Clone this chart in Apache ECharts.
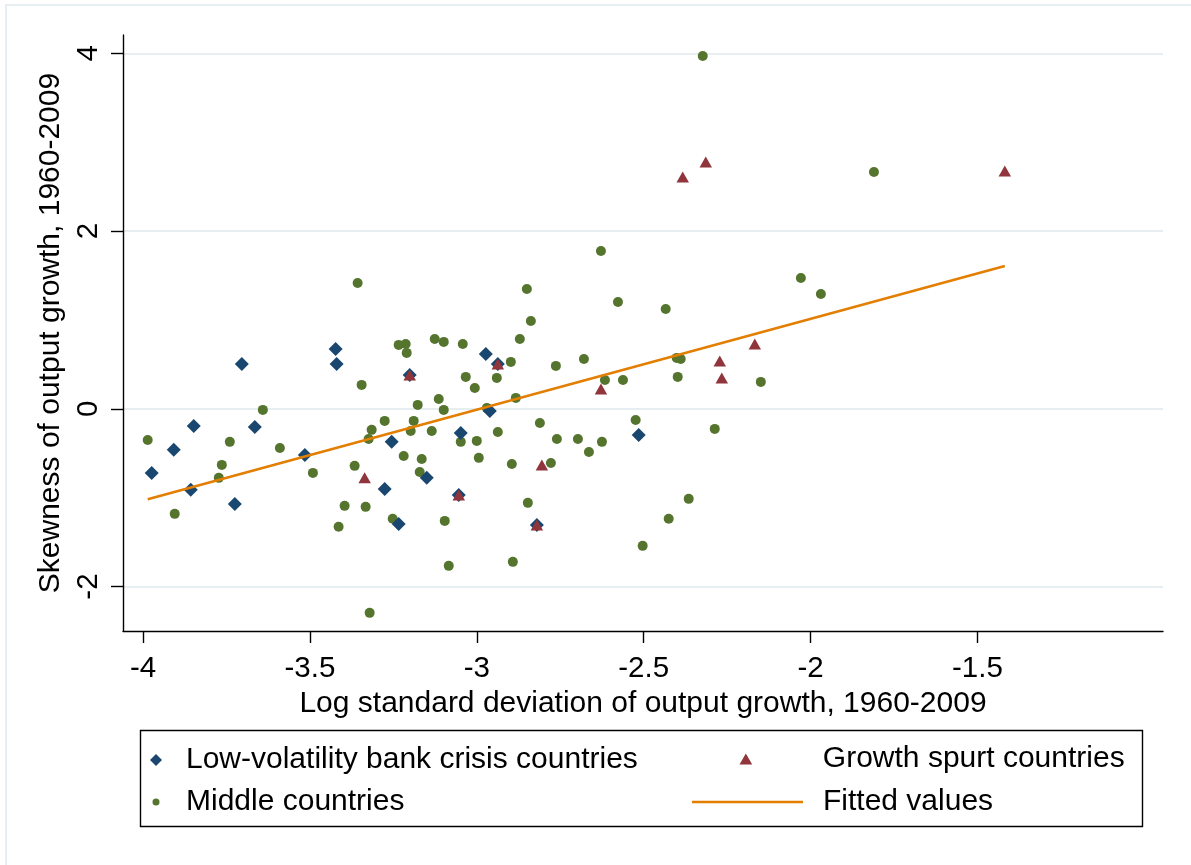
<!DOCTYPE html>
<html>
<head>
<meta charset="utf-8">
<script src="https://cdn.jsdelivr.net/npm/echarts@6/dist/echarts.min.js"></script>
<style>
html,body{margin:0;padding:0;background:#fff;}
#chart{width:1191px;height:865px;}
</style>
</head>
<body>
<div id="chart"></div>
<script>
// ---- data ----
const xTicks = [-4, -3.5, -3, -2.5, -2, -1.5];
const yTicks = [-2, 0, 2, 4];

const lowX = [-3.423, -3.420, -3.704, -3.848, -3.665, -3.908, -3.515, -3.974, -3.857, -3.725, -2.973, -2.937, -3.201, -2.961, -3.048, -3.255, -3.150, -3.276, -3.054, -3.234, -2.820, -2.515];
const lowY = [0.674, 0.505, 0.505, -0.192, -0.204, -0.462, -0.519, -0.721, -0.912, -1.070, 0.618, 0.505, 0.381, -0.024, -0.271, -0.372, -0.777, -0.901, -0.969, -1.295, -1.306, -0.294];

const spurtX = [-3.201, -2.937, -3.054, -2.820, -3.336, -2.805, -2.628, -2.314, -2.383, -2.167, -2.272, -2.266, -1.418];
const spurtY = [0.381, 0.505, -0.969, -1.306, -0.777, -0.631, 0.224, 2.777, 2.609, 0.730, 0.539, 0.348, 2.676];

const midX = [-3.986, -3.641, -3.345, -3.740, -3.590, -3.764, -3.491, -3.366, -3.773, -3.905, -3.396, -3.414, -3.357, -3.234, -3.213, -3.210, -3.126, -3.099, -3.042, -2.871, -2.898, -3.033, -3.006, -2.940, -3.114, -3.177, -2.883, -3.099, -2.970, -3.276, -3.189, -3.315, -3.324, -3.198, -3.135, -3.048, -3.000, -2.937, -3.219, -3.165, -2.994, -2.895, -3.171, -3.333, -3.252, -3.096, -3.084, -2.892, -3.321, -2.628, -2.850, -2.577, -2.434, -2.838, -2.763, -2.679, -2.401, -2.389, -2.616, -2.562, -2.398, -2.811, -2.524, -2.760, -2.697, -2.625, -2.664, -2.778, -2.847, -2.365, -2.425, -2.503, -2.323, -2.029, -1.969, -1.810, -2.149, -2.287];
const midY = [-0.350, -0.012, 0.269, -0.372, -0.440, -0.631, -0.721, -0.642, -0.777, -1.182, -1.092, -1.328, 1.416, 0.719, 0.730, 0.629, 0.786, 0.753, 0.730, 0.786, 0.528, 0.359, 0.235, 0.348, 0.111, 0.044, 0.123, -0.012, 0.010, -0.136, -0.136, -0.237, -0.339, -0.249, -0.249, -0.372, -0.361, -0.260, -0.530, -0.564, -0.552, -0.620, -0.710, -1.103, -1.238, -1.261, -1.767, -1.722, -2.296, 1.776, 1.349, 1.202, 1.124, 0.989, 0.483, 0.561, 0.573, 0.561, 0.325, 0.325, 0.359, -0.159, -0.125, -0.339, -0.339, -0.372, -0.485, -0.609, -1.058, -1.013, -1.238, -1.542, 3.970, 1.472, 1.292, 2.665, 0.303, -0.226];

const fitX = [-3.986, -1.418];
const fitY = [-1.017, 1.607];

const names = ['Low-volatility bank crisis countries', 'Growth spurt countries', 'Middle countries', 'Fitted values'];

// ---- chart ----
const zip = (a, b) => a.map((v, i) => [v, b[i]]);
const FONT = 'Liberation Sans, Arial, Helvetica, sans-serif';
const C_NAVY = '#1a476f', C_MAROON = '#90353b', C_GREEN = '#55752f', C_ORANGE = '#e37e00';

const chart = echarts.init(document.getElementById('chart'), null, {renderer: 'canvas'});

const legendText = {color: '#000', fontFamily: FONT, fontSize: 30, lineHeight: 30};
const legendBase = {padding: 0, itemGap: 0, selectedMode: false, orient: 'horizontal'};
const lt = (pad) => Object.assign({}, legendText, {padding: [0, 0, 0, pad]});

chart.setOption({
  animation: false,
  backgroundColor: '#fff',
  grid: {left: 123, top: 35, right: 28, bottom: 234, containLabel: false},
  xAxis: {
    type: 'value', min: -4.060, max: -0.944,
    axisLine: {onZero: false, lineStyle: {color: '#000', width: 1.4}},
    axisTick: {show: true, length: 12, customValues: xTicks, lineStyle: {color: '#000', width: 1.4}},
    axisLabel: {customValues: xTicks, margin: 23, color: '#000', fontFamily: FONT, fontSize: 29.5, lineHeight: 30},
    splitLine: {show: false},
    name: 'Log standard deviation of output growth, 1960-2009',
    nameLocation: 'middle', nameGap: 52,
    nameTextStyle: {color: '#000', fontFamily: FONT, fontSize: 30, lineHeight: 30}
  },
  yAxis: {
    type: 'value', min: -2.5, max: 4.206,
    axisLine: {onZero: false, lineStyle: {color: '#000', width: 1.4}},
    axisTick: {show: true, length: 12, customValues: yTicks, lineStyle: {color: '#000', width: 1.4}},
    axisLabel: {customValues: yTicks, rotate: 90, margin: 19, color: '#000', fontFamily: FONT, fontSize: 29.5, lineHeight: 30},
    splitLine: {show: true, lineStyle: {color: '#e6eef1', width: 2}},
    name: 'Skewness of output growth, 1960-2009',
    nameLocation: 'middle', nameGap: 44,
    nameTextStyle: {color: '#000', fontFamily: FONT, fontSize: 30, lineHeight: 30}
  },
  legend: [
    Object.assign({}, legendBase, {data: [names[0]], left: 150, top: 745, itemWidth: 12, itemHeight: 12,
      icon: 'path://M5,0L10,5L5,10L0,5Z', textStyle: lt(19)}),
    Object.assign({}, legendBase, {data: [names[2]], left: 152.5, top: 787, itemWidth: 7, itemHeight: 7,
      icon: 'circle', textStyle: lt(21.5)}),
    Object.assign({}, legendBase, {data: [names[1]], left: 739.5, top: 744, itemWidth: 13, itemHeight: 11,
      icon: 'path://M5,0L10,8.66L0,8.66Z', textStyle: lt(65.5)}),
    Object.assign({}, legendBase, {data: [names[3]], left: 692, top: 787, itemWidth: 111, itemHeight: 2.5,
      icon: 'rect', textStyle: lt(15)})
  ],
  graphic: [
    {type: 'rect', silent: true, z: -10, shape: {x: 6, y: 5, width: 1200, height: 880},
      style: {fill: 'none', stroke: '#e6eef1', lineWidth: 2}},
    {type: 'rect', silent: true, shape: {x: 140.5, y: 730.5, width: 1002, height: 96},
      style: {fill: 'none', stroke: '#000', lineWidth: 1.4}}
  ],
  series: [
    {name: names[2], type: 'scatter', z: 2, symbol: 'circle', symbolSize: 10,
      itemStyle: {color: C_GREEN, opacity: 1}, data: zip(midX, midY), silent: true},
    {name: names[0], type: 'scatter', z: 3, symbol: 'diamond', symbolSize: [14, 14],
      itemStyle: {color: C_NAVY, opacity: 1}, data: zip(lowX, lowY), silent: true},
    {name: names[1], type: 'scatter', z: 4, symbol: 'triangle', symbolSize: [12.5, 11],
      itemStyle: {color: C_MAROON, opacity: 1}, data: zip(spurtX, spurtY), silent: true},
    {name: names[3], type: 'line', z: 5, symbol: 'none', showSymbol: false,
      lineStyle: {color: C_ORANGE, width: 2.5}, itemStyle: {color: C_ORANGE},
      data: zip(fitX, fitY), silent: true}
  ]
});
</script>
</body>
</html>
